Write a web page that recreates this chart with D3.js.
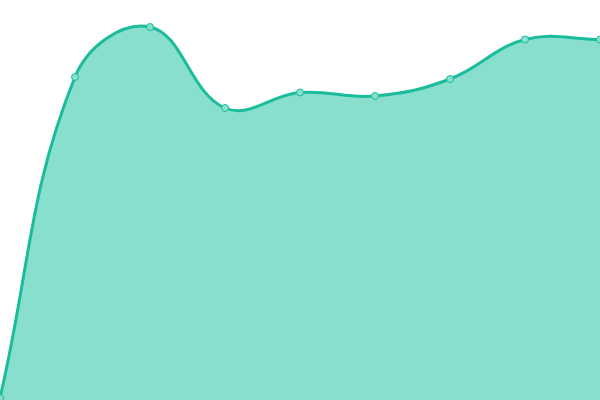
<!DOCTYPE html>
<html>
<head>
<meta charset="utf-8">
<script src="https://cdn.jsdelivr.net/npm/d3@7"></script>
<style>
  html, body { margin: 0; padding: 0; background: #fff; }
  svg { display: block; }
</style>
</head>
<body>
<svg id="chart"></svg>
<script>
const width = 600,
    height = 400;

const labels = ["1", "2", "3", "4", "5", "6", "7", "8", "9"];
const values = [2, 323, 373, 292, 307.5, 304, 321, 360.5, 360.5];

const tension = 0.4;

// spline where each control point is scaled by the distance to its neighbours
function distanceSpline(context) {
    let pts = [], line = NaN;
    return {
        areaStart() { line = 0; },
        areaEnd() { line = NaN; },
        lineStart() { pts = []; },
        lineEnd() {
            const n = pts.length;
            if (n) {
                const cps = pts.map((p, i) => {
                    const a = pts[i - 1] || p, b = pts[i + 1] || p;
                    const d01 = Math.hypot(p[0] - a[0], p[1] - a[1]);
                    const d12 = Math.hypot(b[0] - p[0], b[1] - p[1]);
                    let s01 = d01 / (d01 + d12), s12 = d12 / (d01 + d12);
                    if (isNaN(s01)) s01 = 0;
                    if (isNaN(s12)) s12 = 0;
                    const fa = tension * s01, fb = tension * s12;
                    const clampY = v => Math.max(0, Math.min(height, v));
                    return {
                        prev: [p[0] - fa * (b[0] - a[0]), clampY(p[1] - fa * (b[1] - a[1]))],
                        next: [p[0] + fb * (b[0] - a[0]), clampY(p[1] + fb * (b[1] - a[1]))]
                    };
                });
                if (line) context.lineTo(pts[0][0], pts[0][1]);
                else context.moveTo(pts[0][0], pts[0][1]);
                for (let i = 1; i < n; i++) {
                    const c0 = cps[i - 1].next, c1 = cps[i].prev;
                    context.bezierCurveTo(c0[0], c0[1], c1[0], c1[1], pts[i][0], pts[i][1]);
                }
            }
            if (line === 1) context.closePath();
            line = 1 - line;
        },
        point(x, y) { pts.push([+x, +y]); }
    };
}

const svg = d3.select("svg#chart")
    .attr("width", width)
    .attr("height", height);

const x = d3.scalePoint()
    .domain(labels)
    .range([0, width]);
const y = d3.scaleLinear()
    .domain([0, 400])
    .range([height, 0]);

const area = d3.area()
    .x((d, i) => x(labels[i]))
    .y0(height)
    .y1(d => y(d))
    .curve(distanceSpline);
const line = d3.line()
    .x((d, i) => x(labels[i]))
    .y(d => y(d))
    .curve(distanceSpline);

svg.append("path")
    .datum(values)
    .attr("d", area)
    .attr("fill", "#89dfce");
svg.append("path")
    .datum(values)
    .attr("d", line)
    .attr("fill", "none")
    .attr("stroke", "#1abc9c")
    .attr("stroke-width", 3);

svg.selectAll("circle.pt")
    .data(values)
    .enter()
    .append("circle")
    .classed("pt", true)
    .attr("cx", (d, i) => x(labels[i]))
    .attr("cy", d => y(d))
    .attr("r", 3.5)
    .attr("fill", "#89dfce")
    .attr("stroke", "#1abc9c")
    .attr("stroke-width", 1);
</script>
</body>
</html>
